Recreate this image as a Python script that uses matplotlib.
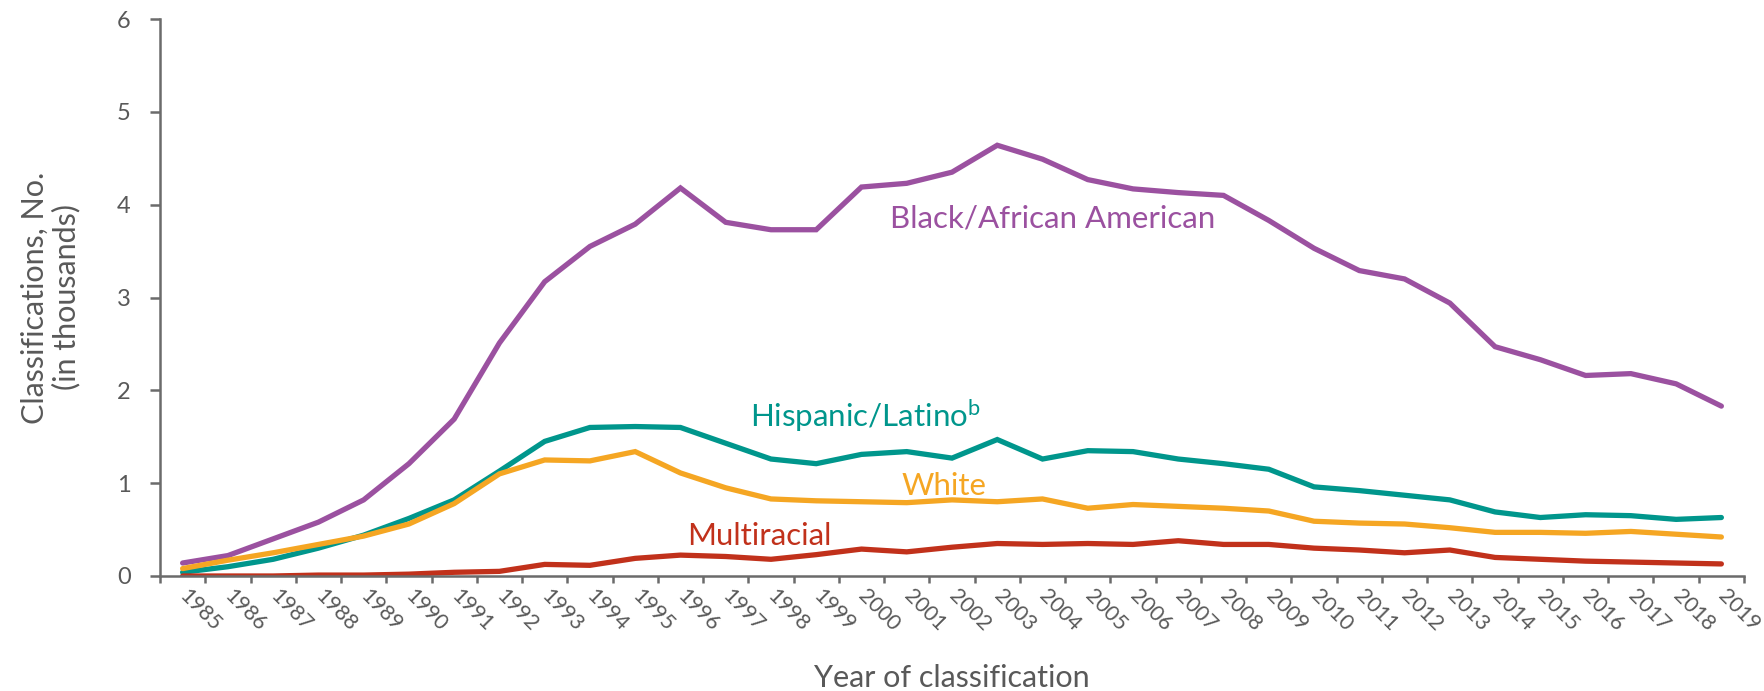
import numpy as np
import matplotlib.pyplot as plt

years = list(range(1985, 2020))

black = [0.14, 0.22, 0.40, 0.58, 0.82, 1.21, 1.69, 2.51, 3.17, 3.55, 3.79, 4.18, 3.81, 3.73, 3.73, 4.19,
         4.23, 4.35, 4.64, 4.49, 4.27, 4.17, 4.13, 4.10, 3.83, 3.53, 3.29, 3.20, 2.94, 2.47, 2.33, 2.16,
         2.18, 2.07, 1.83]
hispanic = [0.04, 0.10, 0.18, 0.30, 0.44, 0.62, 0.82, 1.13, 1.45, 1.60, 1.61, 1.60, 1.43, 1.26, 1.21, 1.31,
            1.34, 1.27, 1.47, 1.26, 1.35, 1.34, 1.26, 1.21, 1.15, 0.96, 0.92, 0.87, 0.82, 0.69, 0.63, 0.66,
            0.65, 0.61, 0.63]
white = [0.08, 0.17, 0.25, 0.34, 0.43, 0.56, 0.78, 1.10, 1.25, 1.24, 1.34, 1.11, 0.95, 0.83, 0.81, 0.80,
         0.79, 0.82, 0.80, 0.83, 0.73, 0.77, 0.75, 0.73, 0.70, 0.59, 0.57, 0.56, 0.52, 0.47, 0.47, 0.46,
         0.48, 0.45, 0.42]
multiracial = [0.00, 0.00, 0.00, 0.01, 0.01, 0.02, 0.04, 0.05, 0.125, 0.115, 0.19, 0.225, 0.21, 0.18, 0.23, 0.29,
               0.26, 0.31, 0.35, 0.34, 0.35, 0.34, 0.38, 0.34, 0.34, 0.30, 0.28, 0.25, 0.28, 0.20, 0.18, 0.16,
               0.15, 0.14, 0.13]

series_names = ['Black/African American', 'Hispanic/Latino$^{\\mathregular{b}}$', 'White', 'Multiracial']
colors = ['#9B51A0', '#00968C', '#F5A623', '#C1311B']
# label anchor (category index, value) - left/baseline
label_pos = [(15.63, 3.75), (12.54, 1.605), (15.89, 0.87), (11.14, 0.334)]

plt.rcParams['font.family'] = ['Lato', 'DejaVu Sans']
grey = '#595959'

fig = plt.figure(figsize=(17.65, 6.91), dpi=100)
ax = fig.add_axes([160/1765, 1 - 576/691, 1584/1765, 557/691])

x = np.arange(len(years))
for vals, c in zip([black, hispanic, white, multiracial], colors):
    ax.plot(x, vals, color=c, lw=3.8, solid_capstyle='round', solid_joinstyle='miter')

for name, c, (lx, ly) in zip(series_names, colors, label_pos):
    ax.text(lx, ly, name, color=c, fontsize=22.5, ha='left', va='baseline')

ax.set_xlim(-0.5, len(years) - 0.5)
ax.set_ylim(0, 6)
ax.set_yticks(range(7))
ax.set_xticks(np.arange(len(years) + 1) - 0.5)
ax.set_xticklabels([])
ax.set_xticks(x, minor=True)
ax.set_xticklabels([str(y) for y in years], minor=True, rotation=-45, ha='left', va='center',
                   rotation_mode='anchor')

for s in ['top', 'right']:
    ax.spines[s].set_visible(False)
for s in ['left', 'bottom']:
    ax.spines[s].set_color('#6b6b6b')
    ax.spines[s].set_linewidth(1.8)

ax.tick_params(axis='y', direction='out', length=7, width=1.8, color='#6b6b6b', labelsize=17,
               labelcolor=grey, pad=14)
ax.tick_params(axis='x', which='major', direction='out', length=5, width=1.8, color='#6b6b6b')
ax.tick_params(axis='x', which='minor', length=0, labelsize=15.5, labelcolor=grey, pad=12)

ax.set_ylabel('Classifications, No.\n(in thousands)', fontsize=22, color=grey, linespacing=1.15)
ax.yaxis.set_label_coords(-0.05, 0.5)
fig.text(952/1765, 4/691, 'Year of classification', fontsize=22, color=grey, ha='center', va='baseline')

fig.savefig('out.png', dpi=100)
